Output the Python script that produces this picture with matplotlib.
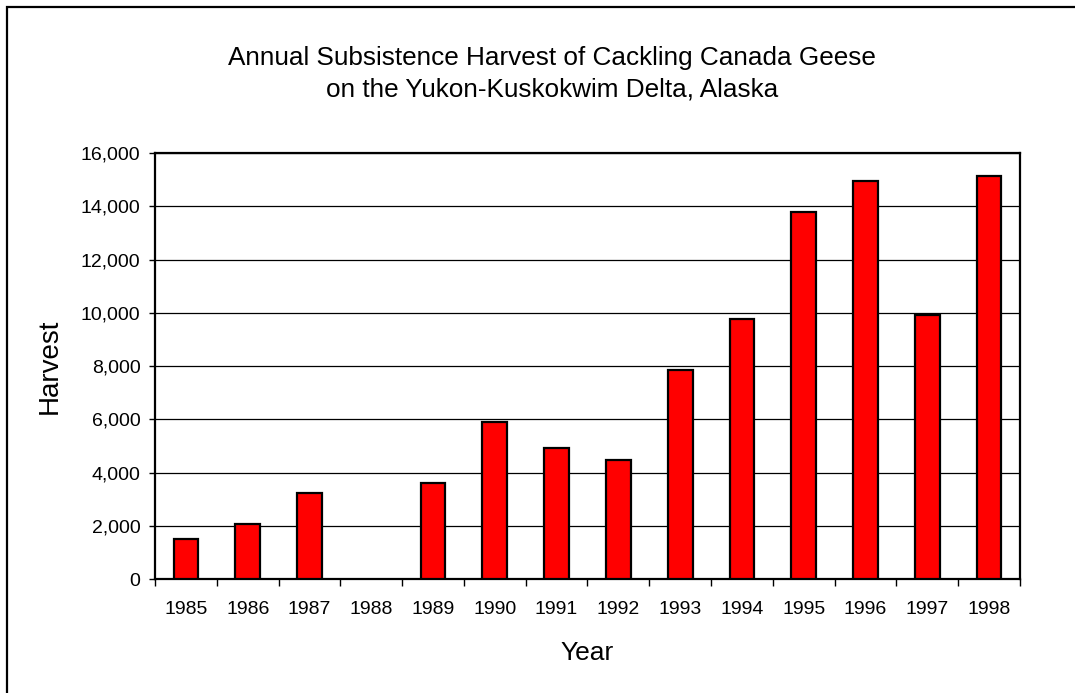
import numpy as np
import matplotlib
matplotlib.use("Agg")
import matplotlib.pyplot as plt
from matplotlib.patches import Rectangle
from matplotlib.ticker import FuncFormatter, MultipleLocator

plt.rcParams['font.family'] = ['Liberation Sans', 'DejaVu Sans']

years = ['1985', '1986', '1987', '1988', '1989', '1990', '1991',
         '1992', '1993', '1994', '1995', '1996', '1997', '1998']
harvest = [1500, 2075, 3230, 0, 3590, 5890, 4915,
           4480, 7845, 9760, 13780, 14950, 9910, 15150]

fig = plt.figure(figsize=(10.75, 6.93), dpi=100)
ax = fig.add_axes([0.1442, 0.1645, 0.9488 - 0.1442, 0.7792 - 0.1645])

# outer chart-area frame
fig.patches.append(Rectangle((7 / 1075, -0.1), 1.2, (693 - 7) / 693 + 0.1,
                             transform=fig.transFigure, fill=False,
                             edgecolor='black', linewidth=1.6, zorder=0))

x = np.arange(len(years))
edge_w = [0 if h == 0 else 1.6 for h in harvest]
ax.bar(x, harvest, width=0.4, color='#ff0000', edgecolor='black',
       linewidth=edge_w, zorder=3)

ax.set_xlim(-0.5, len(years) - 0.5)
ax.set_ylim(0, 16000)
ax.yaxis.set_major_locator(MultipleLocator(2000))
ax.yaxis.set_major_formatter(FuncFormatter(lambda v, p: f'{int(v):,}'))
ax.grid(axis='y', color='black', linewidth=0.9, zorder=0)

# category ticks between bars, labels centered on bars
ax.set_xticks(np.arange(len(years) + 1) - 0.5)
ax.set_xticklabels([])
ax.set_xticks(x, minor=True)
ax.set_xticklabels(years, minor=True)
ax.tick_params(axis='x', which='minor', length=0, pad=16, labelsize=14)
ax.tick_params(axis='x', which='major', direction='out', length=5, width=1)
ax.tick_params(axis='y', direction='out', length=4.5, width=1, labelsize=14, pad=6)

for s in ax.spines.values():
    s.set_linewidth(1.6)

ax.set_ylabel('Harvest', fontsize=20, va='center')
ax.yaxis.set_label_coords((50 - 155) / 865, 0.5)
ax.set_xlabel('Year', fontsize=19, va='center')
ax.xaxis.set_label_coords(0.5, (579 - 653) / 426)

fig.text(552 / 1075, 1 - 58 / 693, 'Annual Subsistence Harvest of Cackling Canada Geese',
         ha='center', va='center', fontsize=18.8)
fig.text(552 / 1075, 1 - 90 / 693, 'on the Yukon-Kuskokwim Delta, Alaska',
         ha='center', va='center', fontsize=18.8)

fig.savefig('out.png', dpi=100)
